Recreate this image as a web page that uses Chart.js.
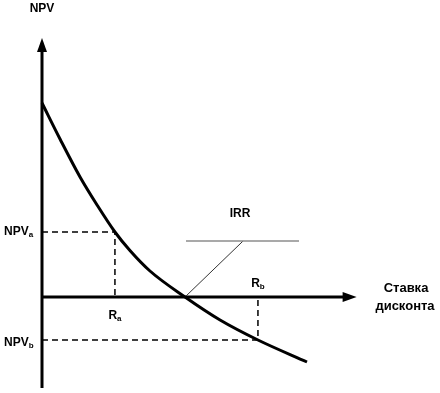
<!DOCTYPE html>
<html>
  <head>
    <title>NPV - IRR</title>
    <meta charset="utf-8" />
    <script src="https://cdn.jsdelivr.net/npm/chart.js"></script>
    <style>
      body { margin: 0; background: #fff; }
      #wrap { width: 440px; height: 393px; position: relative; }
    </style>
  </head>
  <body>
    <div id="wrap"><canvas id="npvChart"></canvas></div>
    <script>
      // кривая NPV от ставки дисконта (условные единицы)
      const rates = [0, 0.126, 0.266, 0.385, 0.51, 0.615, 0.755, 1.0, 1.245, 1.51, 1.853];
      const npv = [1.94, 1.58, 1.2, 0.92, 0.65, 0.465, 0.26, 0, -0.23, -0.43, -0.65];

      const rateA = 0.51;
      const rateB = 1.51;
      const npvA = 0.65;
      const npvB = -0.43;
      const irr = 1.0;

      // выноска IRR
      const irrLineX = [1.007, 1.797];
      const irrLineY = 0.56;
      const irrPointerX = 1.406;

      // оси
      const axisX = [0, 2.2];
      const axisY = [-0.91, 2.59];

      const pts = (xs, ys) => xs.map((x, i) => ({ x: x, y: ys[i] }));

      const dash = {
        borderColor: "#000",
        borderWidth: 1.5,
        borderDash: [6, 4],
        pointRadius: 0,
        fill: false,
      };

      // стрелки и подписи
      const labelsPlugin = {
        id: "labels",
        afterDatasetsDraw(chart) {
          const ctx = chart.ctx;
          const sx = chart.scales.x;
          const sy = chart.scales.y;
          const x0 = sx.getPixelForValue(0);
          const y0 = sy.getPixelForValue(0);

          ctx.save();
          ctx.fillStyle = "#000";
          // стрелка оси Y
          const ty = sy.getPixelForValue(axisY[1]);
          ctx.beginPath();
          ctx.moveTo(x0, ty);
          ctx.lineTo(x0 - 5, ty + 14);
          ctx.lineTo(x0 + 5, ty + 14);
          ctx.closePath();
          ctx.fill();
          // стрелка оси X
          const tx = sx.getPixelForValue(axisX[1]);
          ctx.beginPath();
          ctx.moveTo(tx, y0);
          ctx.lineTo(tx - 14, y0 - 5);
          ctx.lineTo(tx - 14, y0 + 5);
          ctx.closePath();
          ctx.fill();

          const font = 'bold 12px "Liberation Sans", Arial, sans-serif';
          const subFont = 'bold 8px "Liberation Sans", Arial, sans-serif';
          ctx.textBaseline = "middle";

          function label(text, sub, x, y, align) {
            ctx.font = font;
            const w = ctx.measureText(text).width;
            ctx.font = subFont;
            const ws = sub ? ctx.measureText(sub).width : 0;
            let left = x;
            if (align === "center") left = x - (w + ws) / 2;
            if (align === "right") left = x - (w + ws);
            ctx.textAlign = "left";
            ctx.font = font;
            ctx.fillText(text, left, y);
            if (sub) {
              ctx.font = subFont;
              ctx.fillText(sub, left + w, y + 3);
            }
          }

          label("NPV", "", x0, 9, "center");
          label("NPV", "a", 4, sy.getPixelForValue(npvA), "left");
          label("NPV", "b", 4, sy.getPixelForValue(npvB) + 3, "left");
          label("R", "a", sx.getPixelForValue(rateA), y0 + 19, "center");
          label("R", "b", sx.getPixelForValue(rateB), y0 - 13, "center");
          label("IRR", "", sx.getPixelForValue(irrPointerX) - 3, 214, "center");

          ctx.font = 'bold 13px "Liberation Sans", Arial, sans-serif';
          ctx.textAlign = "center";
          ctx.fillText("Ставка", 406, 288);
          ctx.fillText("дисконта", 405, 306);
          ctx.restore();
        },
      };

      new Chart(document.getElementById("npvChart"), {
        type: "scatter",
        data: {
          datasets: [
            {
              data: pts(rates, npv),
              showLine: true,
              borderColor: "#000",
              borderWidth: 3,
              pointRadius: 0,
              tension: 0.4,
              cubicInterpolationMode: "monotone",
            },
            Object.assign({ data: pts([0, rateA, rateA], [npvA, npvA, 0]), showLine: true }, dash),
            Object.assign({ data: pts([0, rateB, rateB], [npvB, npvB, 0]), showLine: true }, dash),
            {
              data: pts(irrLineX, [irrLineY, irrLineY]),
              showLine: true,
              borderColor: "#8c8c8c",
              borderWidth: 1.5,
              pointRadius: 0,
            },
            {
              data: pts([irr, irrPointerX], [0, irrLineY]),
              showLine: true,
              borderColor: "#333",
              borderWidth: 1,
              pointRadius: 0,
            },
            {
              data: pts([axisX[0], axisX[1] - 0.09], [0, 0]),
              showLine: true,
              borderColor: "#000",
              borderWidth: 3,
              pointRadius: 0,
            },
            {
              data: pts([0, 0], [axisY[0], axisY[1] - 0.12]),
              showLine: true,
              borderColor: "#000",
              borderWidth: 3,
              pointRadius: 0,
            },
          ],
        },
        options: {
          responsive: true,
          maintainAspectRatio: false,
          animation: false,
          layout: { padding: 0 },
          plugins: { legend: { display: false }, tooltip: { enabled: false } },
          scales: {
            x: { type: "linear", display: false, min: -0.2937, max: 2.783 },
            y: { type: "linear", display: false, min: -0.96, max: 2.97 },
          },
        },
        plugins: [labelsPlugin],
      });
    </script>
  </body>
</html>
